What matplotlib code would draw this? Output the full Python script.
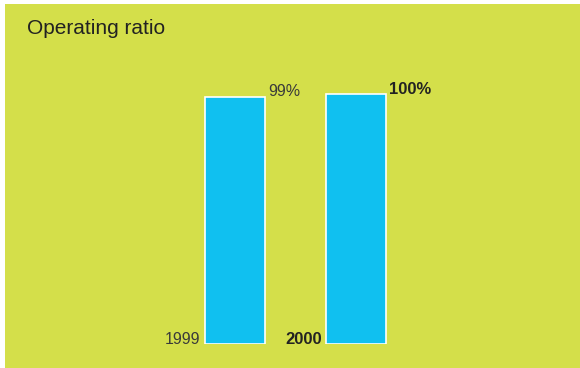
import matplotlib
matplotlib.use("Agg")
import matplotlib.pyplot as plt
from matplotlib.patches import Rectangle

years = ["1999", "2000"]
values = [99, 100]
value_labels = ["99%", "100%"]
bold = [False, True]

W, H = 580, 368
plt.rcParams['font.family'] = ['Liberation Sans', 'DejaVu Sans']

fig = plt.figure(figsize=(W / 100, H / 100), dpi=100)
fig.patch.set_facecolor("white")
fig.patches.append(Rectangle((5 / W, 0), 1, (H - 4) / H, transform=fig.transFigure,
                             facecolor="#d4df4a", edgecolor="none", zorder=-10))

fig.text(27 / W, 1 - 28 / H, "Operating ratio", fontsize=15, color="#222222",
         va="center", ha="left")

ax = fig.add_axes([174.5 / W, 24 / H, 242 / W, 275 / H])
ax.set_facecolor("none")
ax.set_zorder(5)
x = list(range(len(years)))
ax.bar(x, values, width=60 / 121, color="#10c0f0", edgecolor="white", linewidth=1.2)
ax.set_xlim(-0.5, 1.5)
ax.set_ylim(0, 110)
ax.axis("off")

for xi, v, lab, yr, b in zip(x, values, value_labels, years, bold):
    w = "bold" if b else "normal"
    c = "#222222" if b else "#3a3a3a"
    fs = 12 if b else 11.5
    ax.annotate(lab, (xi + 0.25, v), xytext=(2, 3.5), textcoords="offset points",
                ha="left", va="center", fontsize=fs, fontweight=w, color=c,
                annotation_clip=False)
    ax.annotate(yr, (xi - 0.25, 0), xytext=(-3, 3.5), textcoords="offset points",
                ha="right", va="center", fontsize=fs, fontweight=w, color=c,
                annotation_clip=False)

fig.savefig("out.png", dpi=100)
